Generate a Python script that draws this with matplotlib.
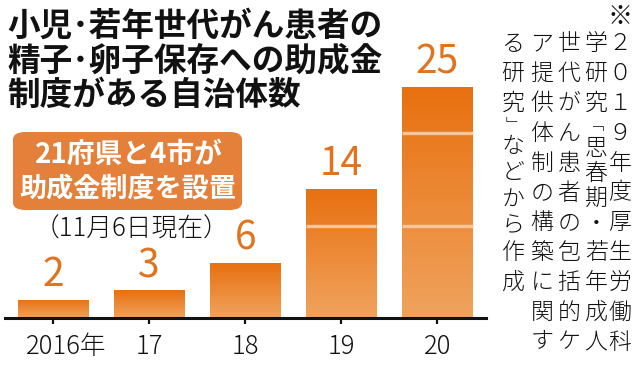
import numpy as np
import matplotlib
matplotlib.use("Agg")
import matplotlib.pyplot as plt
from matplotlib.patches import FancyBboxPatch
from matplotlib.colors import LinearSegmentedColormap
import matplotlib.transforms as mtransforms

plt.rcParams['font.family'] = ['Noto Sans CJK JP', 'DejaVu Sans']

# ---- data ----
years = ["2016年", "17", "18", "19", "20"]
counts = [2, 3, 6, 14, 25]
grid_levels = [10, 20]

title_lines = ["小児･若年世代がん患者の", "精子･卵子保存への助成金", "制度がある自治体数"]
box_lines = ["21府県と4市が", "助成金制度を設置"]
date_note = "（11月6日現在）"
source_cols = [
    list("※２０１９年度厚生労働科"),
    list("学研究﹁思春期・若年成人"),
    list("世代がん患者の包括的ケ"),
    list("ア提供体制の構築に関す"),
    list("る研究﹂などから作成"),
]

W, H = 640, 365
fig = plt.figure(figsize=(W / 100, H / 100), dpi=100)
fig.patch.set_facecolor("white")

def fx(px):
    return px / W

def fy(py):
    return 1 - py / H

# axes: x centers at 53 + 96*i, axis line at y=318, ~9.24 px per unit
ax = fig.add_axes([fx(5), fy(318), 480.5 / W, 277.2 / H])
ax.patch.set_alpha(0)

cmap = LinearSegmentedColormap.from_list("g", ["#F0A35E", "#E8700F"])
x = np.arange(len(counts))
bw = 0.73
bars = ax.bar(x, counts, width=bw, color="none", edgecolor="none", zorder=2)
grad = np.linspace(0, 1, 256).reshape(-1, 1)
for b, v in zip(bars, counts):
    x0 = b.get_x()
    im = ax.imshow(grad, extent=[x0, x0 + bw, 0, v], origin="lower", aspect="auto",
                   cmap=cmap, zorder=2)
    im.set_clip_path(b)
for lvl in grid_levels:
    for xi, v in zip(x, counts):
        if v > lvl:
            ax.hlines(lvl, xi - bw / 2, xi + bw / 2, color="#F7C59A", lw=2.4, zorder=3)
for xi, v in zip(x, counts):
    ax.annotate(str(v), (xi, v), xytext=(0, 3), textcoords="offset points",
                ha="center", va="bottom", fontsize=28, color="#E2731E",
                fontweight="normal")

ax.set_xlim(-0.5, 4.5)
ax.set_ylim(0, 30)
for s in ["top", "right", "left"]:
    ax.spines[s].set_visible(False)
ax.spines["bottom"].set_linewidth(2.2)
ax.spines["bottom"].set_color("#111111")
ax.set_yticks([])
ax.set_xticks(x)
ax.set_xticklabels(years, fontsize=18.5, color="#111111", fontweight="light")
ax.tick_params(axis="x", direction="out", length=4, width=1.6, pad=7, color="#111111")
# keep the digits of the first label centred on its tick (年 hangs to the right)
first = ax.get_xticklabels()[0]
first.set_transform(first.get_transform() +
                    mtransforms.ScaledTranslation(13 / 100, 0, fig.dpi_scale_trans))

# title
fig.text(fx(7), fy(10), "\n".join(title_lines), ha="left", va="top", fontsize=23.5,
         fontweight="bold", color="#111111", linespacing=1.06)

# annotation box
box = FancyBboxPatch((fx(13), fy(210)), fx(229), (210 - 132) / H,
                     boxstyle="round,pad=0,rounding_size=0.02",
                     transform=fig.transFigure, facecolor="#E5803A",
                     edgecolor="none", zorder=1)
fig.patches.append(box)
fig.text(fx(129), fy(155), box_lines[0], ha="center", va="center", fontsize=20,
         fontweight="bold", color="white")
fig.text(fx(128), fy(188), box_lines[1], ha="center", va="center", fontsize=19.5,
         fontweight="bold", color="white")
fig.text(fx(132), fy(229), date_note, ha="center", va="center", fontsize=18.5,
         color="#111111", fontweight="light")

# vertical source note (right to left columns)
col_x = [620, 596, 569, 542, 513]
row0, pitch = 44, 29.8
rows = [
    [1.1] + list(range(2, 13)),
    [2, 3, 4, 4.75, 5.5, 6.35, 7.2, 8.05, 9, 10, 11, 12],
    list(range(2, 13)),
    list(range(2, 13)),
    [2, 3, 4, 4.72, 5.45, 6.3, 7.2, 8.1, 9, 10],
]
small = set("﹁﹂")
for ci, (cx, chars, rs) in enumerate(zip(col_x, source_cols, rows)):
    for ch, r in zip(chars, rs):
        yy = row0 + (r - 2) * pitch
        size = 16.5
        if ch in small:
            size = 11
        if ch == "※":
            size = 18
        fig.text(fx(cx), fy(yy), ch, ha="center", va="center",
                 fontsize=size, color="#111111", fontweight="light",
                 family=["Noto Sans CJK JP", "DejaVu Sans"])

fig.savefig("out.png", dpi=100, facecolor="white")
